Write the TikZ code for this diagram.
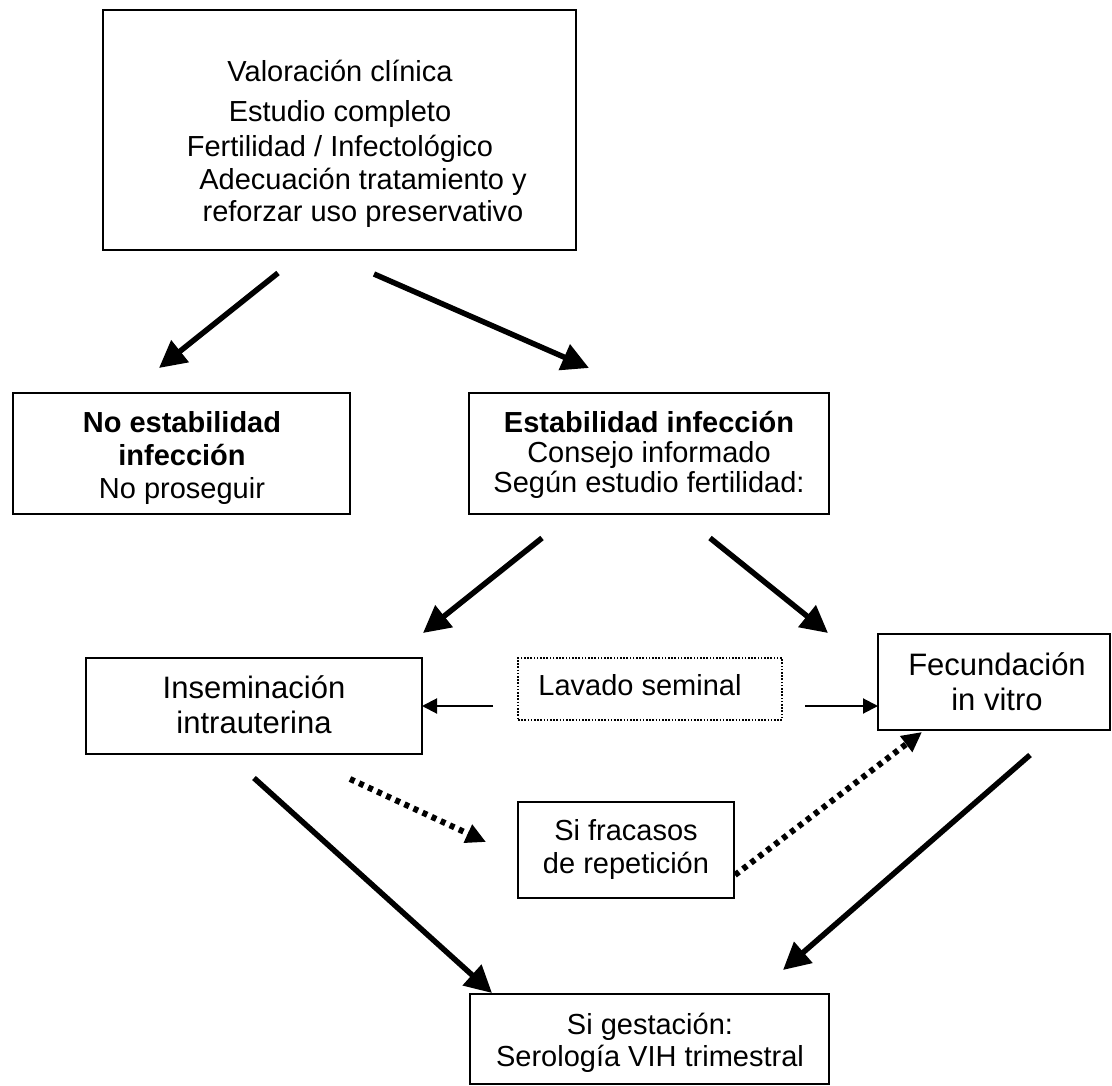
\documentclass[tikz,border=0pt]{standalone}
\usepackage{fontspec}
\setmainfont{Liberation Sans}
\usetikzlibrary{arrows.meta}
\begin{document}
\begin{tikzpicture}[x=1pt,y=-1pt,
  box/.style={draw, line width=2pt, inner sep=0pt},
  dotbox/.style={draw, line width=1.6pt, dash pattern=on 1.6pt off 1.6pt, inner sep=0pt},
  txt/.style={inner sep=0pt, anchor=base, font=\fontsize{29}{35}\selectfont},
  btxt/.style={txt, font=\fontsize{29}{35}\selectfont\bfseries},
  ltxt/.style={txt, font=\fontsize{31}{37}\selectfont},
  fatarrow/.style={line width=5.5pt, -{Triangle[length=27pt,width=27pt]}},
  slimarrow/.style={line width=2pt, -{Triangle[length=15pt,width=15pt]}},
  dotarrow/.style={line width=6pt, dash pattern=on 5pt off 5pt, -{Triangle[length=20pt,width=19pt]}}
]
\useasboundingbox[fill=white] (0,0) rectangle (1112,1086);

% boxes
\node[box, minimum width=473pt, minimum height=240pt] (top) at (339.5,130) {};
\node[box, minimum width=337pt, minimum height=121pt] (noest) at (181.5,453.5) {};
\node[box, minimum width=360pt, minimum height=121pt] (est) at (649,453.5) {};
\node[box, minimum width=336pt, minimum height=96pt] (iiu) at (254,706) {};
\node[dotbox, minimum width=264pt, minimum height=62pt] (lav) at (650,689) {};
\node[box, minimum width=232pt, minimum height=96pt] (fiv) at (994,682) {};
\node[box, minimum width=216pt, minimum height=96pt] (fra) at (626,850) {};
\node[box, minimum width=359pt, minimum height=90pt] (ges) at (649.5,1039) {};

% texts
\node[txt] (top1) at (340,82) {Valoración clínica};
\node[txt] (top2) at (340,122) {Estudio completo};
\node[txt] (top3) at (340,157) {Fertilidad / Infectológico};
\node[txt] (top4) at (363,190) {Adecuación tratamiento y};
\node[txt] (top5) at (363,222) {reforzar uso preservativo};

\node[btxt] (noest1) at (182,432) {No estabilidad};
\node[btxt] (noest2) at (182,465) {infección};
\node[txt] (noest3) at (182,498) {No proseguir};

\node[btxt] (est1) at (649,432) {Estabilidad infección};
\node[txt] (est2) at (649,462) {Consejo informado};
\node[txt] (est3) at (649,492) {Según estudio fertilidad:};

\node[ltxt] (iiu1) at (254,698) {Inseminación};
\node[ltxt] (iiu2) at (254,733) {intrauterina};

\node[txt] (lav1) at (640,695) {Lavado seminal};

\node[ltxt] (fiv1) at (997,675) {Fecundación};
\node[ltxt] (fiv2) at (997,710) {in vitro};

\node[txt] (fra1) at (626,840) {Si fracasos};
\node[txt] (fra2) at (626,873) {de repetición};

\node[txt] (ges1) at (650,1034) {Si gestación:};
\node[txt] (ges2) at (650,1066) {Serología VIH trimestral};

% connector end points
\coordinate (a1s) at (278,273); \coordinate (a1e) at (159,368);
\coordinate (a2s) at (374,274); \coordinate (a2e) at (589,368);
\coordinate (a3s) at (542,538); \coordinate (a3e) at (423,633);
\coordinate (a4s) at (710,538); \coordinate (a4e) at (828,633);
\coordinate (l1s) at (493,706); \coordinate (l1e) at (422,706);
\coordinate (l2s) at (805,706); \coordinate (l2e) at (878,706);
\coordinate (d1s) at (350,779); \coordinate (d1e) at (486,842);
\coordinate (d2s) at (735,875); \coordinate (d2e) at (922,732);
\coordinate (t1s) at (254,778); \coordinate (t1e) at (492,993);
\coordinate (t2s) at (1030,755); \coordinate (t2e) at (783,970);

% connectors
\draw[fatarrow] (a1s) -- (a1e);
\draw[fatarrow] (a2s) -- (a2e);
\draw[fatarrow] (a3s) -- (a3e);
\draw[fatarrow] (a4s) -- (a4e);
\draw[slimarrow] (l1s) -- (l1e);
\draw[slimarrow] (l2s) -- (l2e);
\draw[dotarrow] (d1s) -- (d1e);
\draw[dotarrow] (d2s) -- (d2e);
\draw[fatarrow] (t1s) -- (t1e);
\draw[fatarrow] (t2s) -- (t2e);
\end{tikzpicture}
\end{document}
